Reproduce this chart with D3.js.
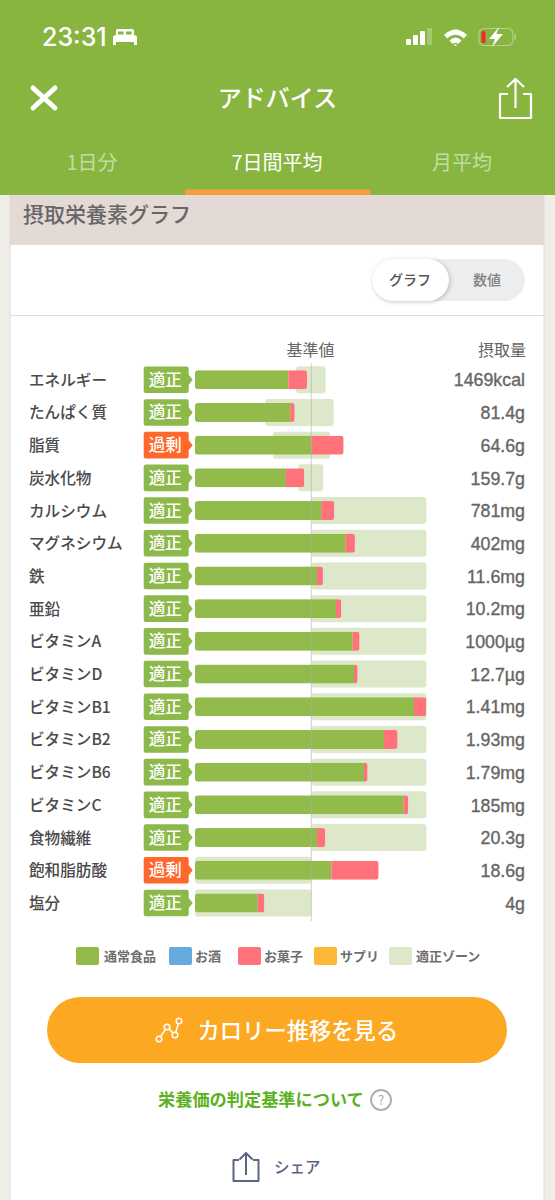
<!DOCTYPE html>
<html lang="ja">
<head>
<meta charset="utf-8">
<script src="https://cdn.jsdelivr.net/npm/d3@7"></script>
<style>
  html, body { margin: 0; padding: 0; background: #efeee6; overflow: hidden; }
  svg { display: block; }
  text { font-family: "Noto Sans CJK JP", "Noto Sans", sans-serif; }
</style>
</head>
<body>
<div id="chart"></div>
<script>
const nutrients = ["エネルギー", "たんぱく質", "脂質", "炭水化物", "カルシウム", "マグネシウム", "鉄", "亜鉛", "ビタミンA", "ビタミンD", "ビタミンB1", "ビタミンB2", "ビタミンB6", "ビタミンC", "食物繊維", "飽和脂肪酸", "塩分"];
const intakeLabels = ["1469kcal", "81.4g", "64.6g", "159.7g", "781mg", "402mg", "11.6mg", "10.2mg", "1000µg", "12.7µg", "1.41mg", "1.93mg", "1.79mg", "185mg", "20.3g", "18.6g", "4g"];
const verdicts = ["適正", "適正", "過剰", "適正", "適正", "適正", "適正", "適正", "適正", "適正", "適正", "適正", "適正", "適正", "適正", "過剰", "適正"];
// percent of the reference value
const foodPct = [80.2, 81.9, 100, 78.2, 108.6, 129.5, 104.9, 121.2, 135.5, 136.7, 188.3, 162.5, 145.3, 179.4, 104.9, 117.2, 53.9];
const snackPct = [16.1, 3.8, 27.8, 15.8, 11.2, 8, 5.1, 4.6, 6, 3.1, 10.6, 11.7, 3.1, 4, 7.1, 40.7, 5.7];
const zoneLow = [86.8, 60.2, 67, 88.8, 100, 100, 100, 100, 100, 100, 100, 100, 100, 100, 100, 0, 0];
const zoneHigh = [112.3, 119.2, 116.3, 110.3, 199, 199, 199, 199, 199, 199, 199, 199, 199, 199, 199, 100, 100];
const legendNames = ["通常食品", "お酒", "お菓子", "サプリ", "適正ゾーン"];
const tabNames = ["1日分", "7日間平均", "月平均"];

const colors = { food: "#92bb4c", alcohol: "#66abe0", snack: "#ff7279", supplement: "#fdb935", zone: "#dce8c9" };
const legendColors = [colors.food, colors.alcohol, colors.snack, colors.supplement, colors.zone];
const headerGreen = "#88b53f";

const width = 555;
const height = 1200;

const svg = d3.select("#chart").append("svg")
  .attr("width", width)
  .attr("height", height);

// card
svg.append("rect").attr("x", 10).attr("y", 195).attr("width", 534).attr("height", 1010)
  .attr("fill", "#fff").attr("stroke", "#dcdcd6").attr("stroke-width", 1);
svg.append("rect").attr("x", 10).attr("y", 195).attr("width", 534).attr("height", 50).attr("fill", "#e3d9d5");
svg.append("text").attr("x", 23).attr("y", 222).attr("font-size", 21).attr("font-weight", 500)
  .attr("fill", "#666").text("摂取栄養素グラフ");

// toggle
svg.append("rect").attr("x", 372).attr("y", 259).attr("width", 153).attr("height", 42).attr("rx", 21).attr("fill", "#ecedef");
svg.append("rect").attr("x", 372).attr("y", 259).attr("width", 77).attr("height", 42).attr("rx", 21).attr("fill", "#fff")
  .style("filter", "drop-shadow(1px 1px 2px rgba(0,0,0,.22))");
svg.append("text").attr("x", 410).attr("y", 285).attr("text-anchor", "middle").attr("font-size", 14).attr("font-weight", 500).attr("fill", "#555").text("グラフ");
svg.append("text").attr("x", 487).attr("y", 285).attr("text-anchor", "middle").attr("font-size", 14).attr("font-weight", 500).attr("fill", "#808080").text("数値");
svg.append("line").attr("x1", 10).attr("x2", 544).attr("y1", 315.5).attr("y2", 315.5).attr("stroke", "#dedede");

// chart
const x = d3.scaleLinear().domain([0, 100]).range([195, 311.3]);
const y = d3.scaleBand().domain(nutrients).range([363.4, 919.3]);
const barH = 19;
const zoneH = 27;
const barY = (d) => y(d) + (y.bandwidth() - barH) / 2;
const zoneY = (d) => y(d) + (y.bandwidth() - zoneH) / 2;

const rows = nutrients.map((name, i) => ({ name, food: foodPct[i], snack: snackPct[i] }));
const stacked = d3.stack().keys(["food", "snack"])(rows);

svg.append("text").attr("x", 310.5).attr("y", 356).attr("text-anchor", "middle").attr("font-size", 16).attr("fill", "#666").text("基準値");
svg.append("text").attr("x", 526).attr("y", 356).attr("text-anchor", "end").attr("font-size", 16).attr("fill", "#666").text("摂取量");

svg.append("g").selectAll("rect").data(nutrients).join("rect")
  .attr("x", (d, i) => x(zoneLow[i]))
  .attr("y", zoneY)
  .attr("width", (d, i) => x(zoneHigh[i]) - x(zoneLow[i]))
  .attr("height", zoneH)
  .attr("rx", 3)
  .attr("fill", colors.zone);

// rounded outer ends of the stacked bar
svg.append("defs").selectAll("clipPath").data(rows).join("clipPath")
  .attr("id", (d, i) => `bar-clip-${i}`)
  .append("rect")
  .attr("x", x(0))
  .attr("y", (d) => barY(d.name))
  .attr("width", (d) => x(d.food + d.snack) - x(0))
  .attr("height", barH)
  .attr("rx", 3);

stacked.forEach((series) => {
  svg.append("g").selectAll("rect").data(series).join("rect")
    .attr("clip-path", (d, i) => `url(#bar-clip-${i})`)
    .attr("x", (d) => x(d[0]))
    .attr("y", (d) => barY(d.data.name))
    .attr("width", (d) => x(d[1]) - x(d[0]))
    .attr("height", barH)
    .attr("fill", colors[series.key]);
});

svg.append("line").attr("x1", x(100)).attr("x2", x(100)).attr("y1", 363).attr("y2", 921)
  .attr("stroke", "#aab0b4").attr("stroke-opacity", 0.6).attr("stroke-width", 1);

// verdict badges
const badges = svg.append("g").selectAll("g").data(nutrients).join("g")
  .attr("transform", (d) => `translate(143.7,${y(d) + y.bandwidth() / 2})`);
badges.append("path")
  .attr("d", "M2,-13.3H43a2,2 0 0 1 2,2V-5L49,0L45,5V11.3a2,2 0 0 1 -2,2H2a2,2 0 0 1 -2,-2V-11.3a2,2 0 0 1 2,-2Z")
  .attr("fill", (d, i) => (verdicts[i] === "過剰" ? "#ff682c" : "#8cb94a"));
badges.append("text")
  .attr("x", 21.5).attr("y", 6).attr("text-anchor", "middle")
  .attr("font-size", 16.5).attr("font-weight", 500).attr("fill", "#fff")
  .text((d, i) => verdicts[i]);

// category and intake labels
const leftAxis = svg.append("g").attr("transform", "translate(29,1)")
  .call(d3.axisLeft(y).tickSize(0).tickPadding(0));
leftAxis.select(".domain").remove();
leftAxis.selectAll("text")
  .attr("text-anchor", "start")
  .attr("font-family", "'Noto Sans CJK JP'")
  .attr("font-size", 15.6).attr("font-weight", 500).attr("fill", "#4a4a4a");

const rightAxis = svg.append("g").attr("transform", "translate(525,1)")
  .call(d3.axisLeft(y).tickSize(0).tickPadding(0).tickFormat((d, i) => intakeLabels[i]));
rightAxis.select(".domain").remove();
rightAxis.selectAll("text")
  .attr("text-anchor", "end")
  .attr("font-family", "'Liberation Sans'")
  .attr("font-size", 17.8).attr("fill", "#666")
  .style("font-family", "'Liberation Sans'")
  .attr("stroke", "#666").attr("stroke-width", 0.35);

// legend
const legendX = [76, 169, 238, 314, 389];
const legendTextGap = [28, 26, 26, 26, 27];
const legend = svg.append("g").selectAll("g").data(legendNames).join("g")
  .attr("transform", (d, i) => `translate(${legendX[i]},947)`);
legend.append("rect").attr("width", 23).attr("height", 18).attr("rx", 2).attr("fill", (d, i) => legendColors[i]);
legend.append("text").attr("x", (d, i) => legendTextGap[i]).attr("y", 14).attr("font-size", 13).attr("font-weight", 700).attr("fill", "#6e6e6e").text((d) => d);

// button
svg.append("rect").attr("x", 47).attr("y", 997).attr("width", 460).attr("height", 66).attr("rx", 33).attr("fill", "#fda823");
svg.append("path").attr("d", "M159,1039L167,1027L175,1035L179,1021").attr("fill", "none").attr("stroke", "#fff").attr("stroke-width", 1.5);
svg.selectAll(".node").data([[159, 1039], [167, 1027], [175, 1035], [179, 1021]]).join("circle")
  .attr("class", "node").attr("cx", (d) => d[0]).attr("cy", (d) => d[1]).attr("r", 2.8)
  .attr("fill", "#fda823").attr("stroke", "#fff").attr("stroke-width", 1.5);
svg.append("text").attr("x", 197.5).attr("y", 1038.5).attr("font-size", 22.3).attr("font-weight", 500).attr("fill", "#fff").text("カロリー推移を見る");

svg.append("text").attr("x", 158).attr("y", 1106).attr("font-size", 17.2).attr("font-weight", 700).attr("fill", "#5cb21e").text("栄養価の判定基準について");
svg.append("circle").attr("cx", 381).attr("cy", 1100).attr("r", 10).attr("fill", "none").attr("stroke", "#b0b0b4").attr("stroke-width", 2);
svg.append("text").attr("x", 381).attr("y", 1105).attr("text-anchor", "middle").attr("font-size", 13).attr("fill", "#a8a8ac").text("?");

// share row
const shareIcon = "M-7,-9H-12.5V12H12.5V-9H7M0,6V-15M-6.5,-9.5L0,-16L6.5,-9.5";
svg.append("path").attr("transform", "translate(246,1169)").attr("d", shareIcon)
  .attr("fill", "none").attr("stroke", "#5b6685").attr("stroke-width", 2).attr("stroke-linejoin", "round");
svg.append("text").attr("x", 274).attr("y", 1173).attr("font-size", 15.5).attr("font-weight", 500).attr("fill", "#5b6280").text("シェア");

// header
svg.append("rect").attr("width", width).attr("height", 195).attr("fill", headerGreen);
svg.append("text").attr("x", 42).attr("y", 46).attr("font-size", 25).attr("font-weight", 500).attr("fill", "#fff")
  .style("font-family", "Inter").text("23:31");
svg.append("path").attr("d", "M113,45V38Q113,35 116,35V31Q116,29 118,29H132Q134,29 134,31V35Q137,35 137,38V45H134V42H116V45Z")
  .attr("fill", "#fff");
svg.append("rect").attr("x", 118).attr("y", 31.5).attr("width", 5.5).attr("height", 3).attr("fill", headerGreen);
svg.append("rect").attr("x", 126).attr("y", 31.5).attr("width", 5.5).attr("height", 3).attr("fill", headerGreen);

// status icons
svg.selectAll(".signal").data([[406, 39, 6], [413, 35, 10], [420, 31, 14], [427, 28, 17]]).join("rect")
  .attr("class", "signal").attr("x", (d) => d[0]).attr("y", (d) => d[1]).attr("width", 5).attr("height", (d) => d[2])
  .attr("rx", 1).attr("fill", (d, i) => (i === 3 ? "#a5c873" : "#fff"));
svg.append("path").attr("d", "M444,35Q455.5,24 467,35L463.8,38.5Q455.5,31 447.2,38.5ZM449.5,40.5Q455.5,34.5 461.5,40.5L458.3,44Q455.5,41.5 452.7,44ZM455.5,46L453.8,45Q455.5,43.5 457.2,45Z").attr("fill", "#fff");
svg.append("rect").attr("x", 479).attr("y", 28.5).attr("width", 34).attr("height", 17).attr("rx", 5).attr("fill", "none").attr("stroke", "#b4d08a").attr("stroke-width", 1.2);
svg.append("rect").attr("x", 481.5).attr("y", 31).attr("width", 4).attr("height", 12).attr("rx", 1.5).attr("fill", "#ee2b2b");
svg.append("path").attr("d", "M499,27L489,39H495L492,47L503,34H496.5Z").attr("fill", "#fff");
svg.append("rect").attr("x", 514.5).attr("y", 34.5).attr("width", 1.5).attr("height", 5).attr("fill", "#b4d08a");

// nav
svg.append("path").attr("d", "M33,88L55,108M55,88L33,108").attr("stroke", "#fff").attr("stroke-width", 5).attr("stroke-linecap", "round");
svg.append("text").attr("x", 277.5).attr("y", 106.5).attr("text-anchor", "middle").attr("font-size", 24).attr("font-weight", 500).attr("fill", "#fff").text("アドバイス");
svg.append("path").attr("d", "M508,94H500V118H531V94H523M515.5,108V80M507,87L515.5,79L524,87")
  .attr("fill", "none").attr("stroke", "#fff").attr("stroke-width", 2.2).attr("stroke-linejoin", "round");

// tabs
const tabX = [92, 277, 462];
svg.append("g").selectAll("text").data(tabNames).join("text")
  .attr("x", (d, i) => tabX[i]).attr("y", 170).attr("text-anchor", "middle")
  .attr("font-size", 20).attr("font-weight", 400)
  .attr("fill", (d, i) => (i === 1 ? "#fff" : "#c3dca4"))
  .text((d) => d);
svg.append("rect").attr("x", 185).attr("y", 189.5).attr("width", 185).attr("height", 5.5).attr("fill", "#fb9c3c");
</script>
</body>
</html>
